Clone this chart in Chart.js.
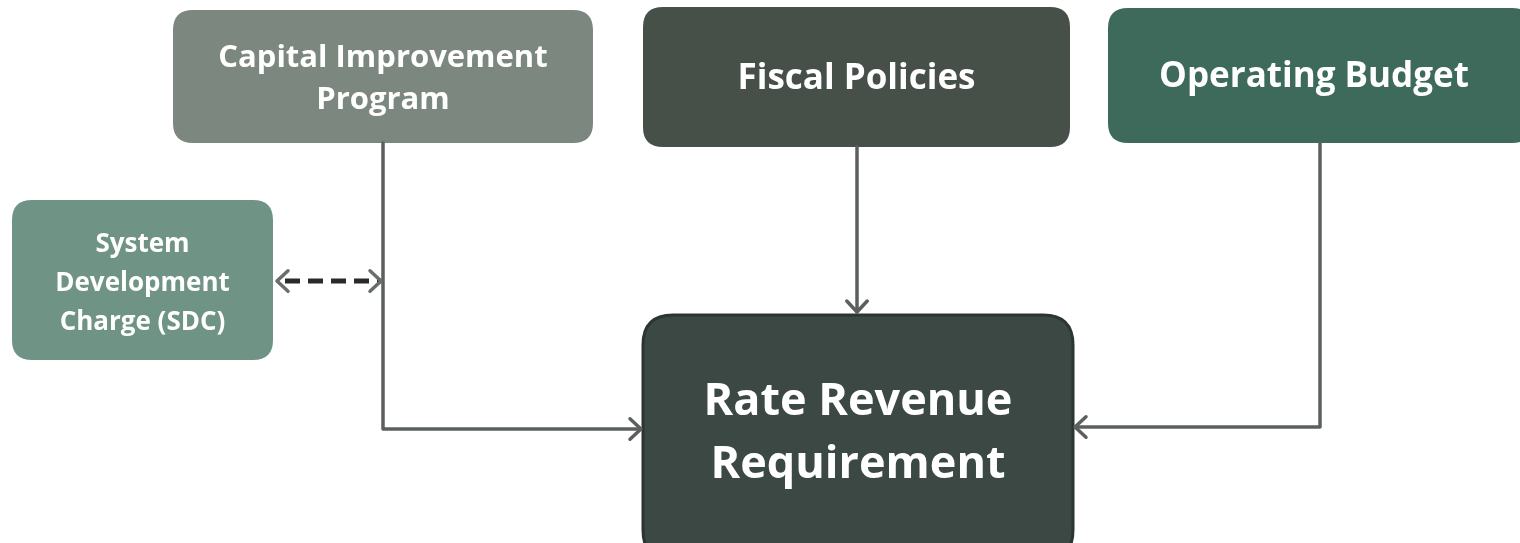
<!DOCTYPE html>
<html>
<head>
<meta charset="utf-8">
<script src="https://cdn.jsdelivr.net/npm/chart.js@4.4.1/dist/chart.umd.min.js"></script>
<style>
  html, body { margin: 0; padding: 0; background: #fff; }
  #wrap { width: 1520px; height: 543px; }
</style>
</head>
<body>
<div id="wrap"><canvas id="flowChart"></canvas></div>
<script>
// boxes of the flow diagram (in diagram units, y grows downwards)
const boxLabels = [
    ['Capital Improvement', 'Program'],
    ['Fiscal Policies'],
    ['Operating Budget'],
    ['System', 'Development', 'Charge (SDC)'],
    ['Rate Revenue', 'Requirement']
];
const boxLeft   = [173, 643, 1108, 12, 643];
const boxRight  = [593, 1070, 1532, 273, 1073];
const boxTop    = [10, 7, 8, 200, 315];
const boxBottom = [143, 147, 143, 360, 560];

// connectors
const cipLinkX = [383, 383, 641];
const cipLinkY = [143, 429, 429];
const fiscalLinkX = [857, 857];
const fiscalLinkY = [147, 312];
const budgetLinkX = [1320, 1320, 1075];
const budgetLinkY = [143, 427, 427];
const sdcLinkX = [277, 381];
const sdcLinkY = [281, 281];

const boxFill = ['#7b877f', '#465049', '#3e6a5c', '#6f9486', '#3c4843'];
const boxFont = [31, 35, 35, 26, 45];
const boxLineGap = [42, 0, 0, 39, 63];
const boxTextShift = [3, 2, 2, 4, 5];

function toPoints(xs, ys) {
    return xs.map((x, i) => ({ x: x, y: ys[i] }));
}

function roundRect(ctx, x, y, w, h, r) {
    ctx.beginPath();
    ctx.moveTo(x + r, y);
    ctx.lineTo(x + w - r, y);
    ctx.quadraticCurveTo(x + w, y, x + w, y + r);
    ctx.lineTo(x + w, y + h - r);
    ctx.quadraticCurveTo(x + w, y + h, x + w - r, y + h);
    ctx.lineTo(x + r, y + h);
    ctx.quadraticCurveTo(x, y + h, x, y + h - r);
    ctx.lineTo(x, y + r);
    ctx.quadraticCurveTo(x, y, x + r, y);
    ctx.closePath();
}

const boxesPlugin = {
    id: 'boxes',
    beforeDatasetsDraw(chart) {
        const ctx = chart.ctx;
        const xs = chart.scales.x, ys = chart.scales.y;
        ctx.save();
        boxLabels.forEach((lines, i) => {
            const x0 = xs.getPixelForValue(boxLeft[i]);
            const x1 = xs.getPixelForValue(boxRight[i]);
            const y0 = ys.getPixelForValue(boxTop[i]);
            const y1 = ys.getPixelForValue(boxBottom[i]);
            roundRect(ctx, x0, y0, x1 - x0, y1 - y0, i === 4 ? 30 : 20);
            ctx.fillStyle = boxFill[i];
            ctx.fill();
            if (i === 4) {
                ctx.lineWidth = 3;
                ctx.strokeStyle = '#2b3531';
                ctx.stroke();
            }
        });
        ctx.restore();
    },
    afterDatasetsDraw(chart) {
        const ctx = chart.ctx;
        const xs = chart.scales.x, ys = chart.scales.y;
        ctx.save();
        // arrow heads
        chart.data.datasets.forEach((ds, di) => {
            const pts = chart.getDatasetMeta(di).data;
            const heads = [];
            if (ds.arrowEnd) heads.push([pts[pts.length - 1], pts[pts.length - 2]]);
            if (ds.arrowStart) heads.push([pts[0], pts[1]]);
            heads.forEach(([tip, prev]) => {
                const a = Math.atan2(tip.y - prev.y, tip.x - prev.x);
                const len = 15, spread = Math.PI / 4.2;
                ctx.beginPath();
                ctx.moveTo(tip.x - len * Math.cos(a - spread), tip.y - len * Math.sin(a - spread));
                ctx.lineTo(tip.x, tip.y);
                ctx.lineTo(tip.x - len * Math.cos(a + spread), tip.y - len * Math.sin(a + spread));
                ctx.setLineDash([]);
                ctx.lineWidth = 3.5;
                ctx.lineCap = 'round';
                ctx.lineJoin = 'round';
                ctx.strokeStyle = ds.headColor || '#5b605d';
                ctx.stroke();
            });
        });
        // labels
        ctx.fillStyle = '#ffffff';
        ctx.textAlign = 'center';
        ctx.textBaseline = 'middle';
        boxLabels.forEach((lines, i) => {
            const cx = (xs.getPixelForValue(boxLeft[i]) + xs.getPixelForValue(Math.min(boxRight[i], 1520))) / 2;
            const cy = (ys.getPixelForValue(boxTop[i]) + ys.getPixelForValue(Math.min(boxBottom[i], 543))) / 2 + boxTextShift[i];
            ctx.font = 'bold ' + boxFont[i] + 'px "Open Sans", Lato, sans-serif';
            const start = cy - (lines.length - 1) * boxLineGap[i] / 2;
            lines.forEach((t, k) => ctx.fillText(t, cx, start + k * boxLineGap[i]));
        });
        ctx.restore();
    }
};

new Chart(document.getElementById('flowChart').getContext('2d'), {
    type: 'scatter',
    data: {
        datasets: [
            { data: toPoints(cipLinkX, cipLinkY), arrowEnd: true },
            { data: toPoints(fiscalLinkX, fiscalLinkY), arrowEnd: true },
            { data: toPoints(budgetLinkX, budgetLinkY), arrowEnd: true },
            { data: toPoints(sdcLinkX, sdcLinkY), arrowEnd: true, arrowStart: true,
              borderColor: '#2a2a2a', borderWidth: 5, borderDash: [15, 8], borderDashOffset: -8,
              headColor: '#6a6e6b' }
        ].map(ds => Object.assign({
            showLine: true,
            pointRadius: 0,
            borderColor: '#5b605d',
            borderWidth: 3.5,
            borderJoinStyle: 'round',
            tension: 0
        }, ds))
    },
    options: {
        responsive: true,
        maintainAspectRatio: false,
        animation: false,
        layout: { padding: 0 },
        plugins: { legend: { display: false }, tooltip: { enabled: false } },
        scales: {
            x: { type: 'linear', min: 0, max: 1520, display: false },
            y: { type: 'linear', min: 0, max: 543, reverse: true, display: false }
        }
    },
    plugins: [boxesPlugin]
});
</script>
</body>
</html>
